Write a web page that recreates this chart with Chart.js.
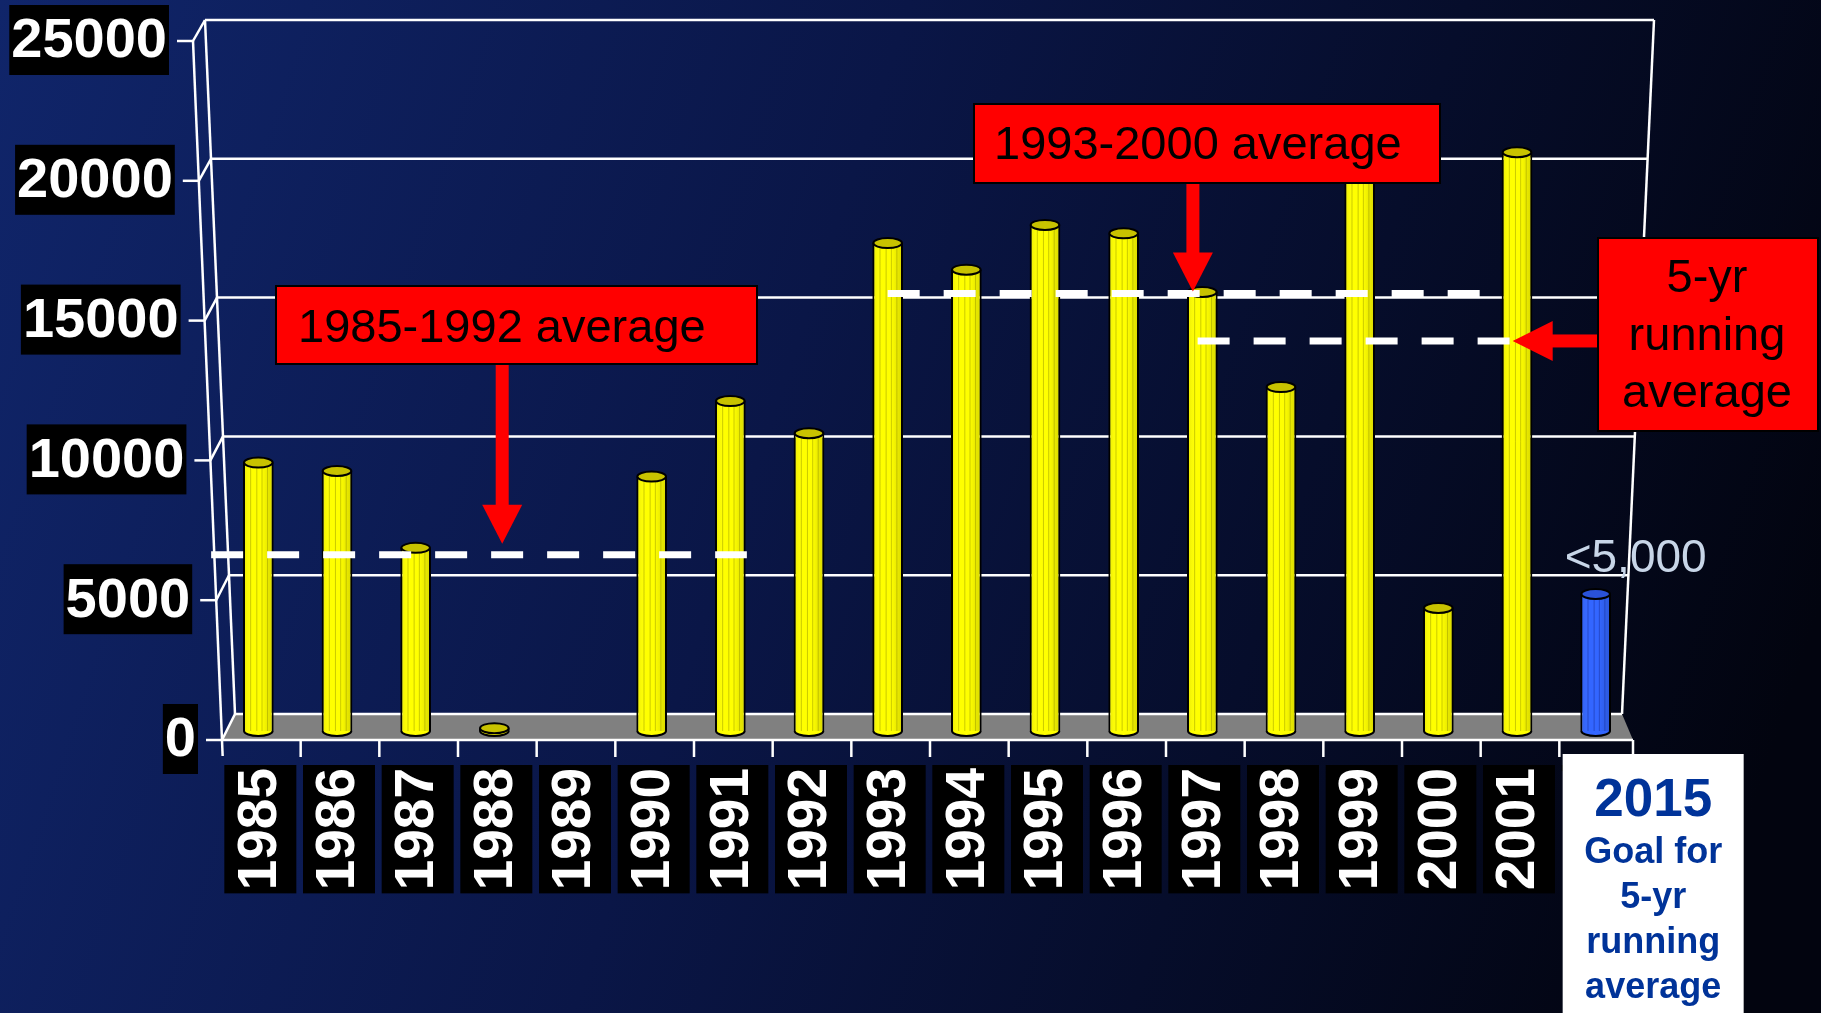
<!DOCTYPE html>
<html><head><meta charset="utf-8">
<script src="https://cdn.jsdelivr.net/npm/chart.js@4.4.1/dist/chart.umd.min.js"></script>
<style>html,body{margin:0;padding:0;background:#060d30;overflow:hidden}canvas{display:block}</style>
</head><body>
<canvas id="c" width="1821" height="1013"></canvas>
<script>
// ---------- data ----------
const years = ['1985','1986','1987','1988','1989','1990','1991','1992','1993','1994','1995','1996','1997','1998','1999','2000','2001'];
const counts = [9600, 9300, 6550, 100, null, 9100, 11800, 10650, 17450, 16500, 18100, 17800, 15700, 12300, 21900, 4400, 20700];
const goalYear = '2015';
const goalValue = 4900;
const goalNote = '<5,000';
const goalBoxLines = ['2015', 'Goal for', '5-yr', 'running', 'average'];
const yTickValues = [0, 5000, 10000, 15000, 20000, 25000];
const avgNames = ['1985-1992 average', '1993-2000 average', '5-yr running average'];
const avgValues = [6300, 15650, 13950];
const avgFrom = [-0.6, 8.0, 11.94];   // in category-index units
const avgTo = [6.21, 15.53, 15.92];

const FONT = '"Liberation Sans", Arial, Helvetica, sans-serif';
const labels = years.concat([goalYear]);
const values = counts.concat([goalValue]);

// shared 3-D frame geometry derived from the chart area and y scale
function geom(chart) {
  const {chartArea: a, scales: {y}} = chart;
  const t = p => (a.bottom - p) / (a.bottom - a.top);
  const fy = p => p + 9;
  const by = p => p - 17 + 5 * t(p);
  const p0 = y.getPixelForValue(0), pT = y.getPixelForValue(25000);
  const F = fy(p0), Bk = by(p0), FT = fy(pT), BT = by(pT);
  const fx = yy => (a.left - 26) + (yy - FT) * 29 / (F - FT);
  const blx = yy => (a.left - 14) + (yy - BT) * 30 / (Bk - BT);
  const brx = yy => (a.right + 19) - (yy - BT) * 32 / (Bk - BT);
  return {a, y, fy, by, F, Bk, FT, BT, fx, blx, brx};
}

// ---------- plugins ----------
const background = {
  id: 'background',
  beforeDraw(chart) {
    const {ctx, width, height} = chart;
    const g = ctx.createLinearGradient(0, 0, width, height * 0.6);
    g.addColorStop(0, '#10256a');
    g.addColorStop(0.45, '#0a1647');
    g.addColorStop(1, '#02040f');
    ctx.save();
    ctx.fillStyle = g;
    ctx.fillRect(0, 0, width, height);
    ctx.restore();
  }
};

const frame = {
  id: 'frame',
  beforeDatasetsDraw(chart) {
    const {ctx} = chart;
    const {a, y, fy, by, F, Bk, FT, BT, fx, blx, brx} = geom(chart);
    ctx.save();
    ctx.fillStyle = '#808080';
    ctx.beginPath();
    ctx.moveTo(fx(F), F); ctx.lineTo(a.right - 2, F); ctx.lineTo(brx(Bk), Bk); ctx.lineTo(blx(Bk), Bk);
    ctx.closePath(); ctx.fill();
    ctx.strokeStyle = '#ffffff';
    ctx.lineWidth = 2.5;
    ctx.lineCap = 'butt';
    const line = (x1, y1, x2, y2) => { ctx.beginPath(); ctx.moveTo(x1, y1); ctx.lineTo(x2, y2); ctx.stroke(); };
    y.ticks.forEach(tk => {
      const p = y.getPixelForValue(tk.value);
      const yb = by(p), yf = fy(p);
      line(blx(yb), yb, brx(yb), yb);
      line(fx(yf), yf, blx(yb), yb);
      line(fx(yf) - 16, yf, fx(yf), yf);
    });
    line(blx(BT), BT, blx(Bk), Bk);
    line(brx(BT), BT, brx(Bk), Bk);
    line(fx(FT), FT, fx(F + 16), F + 16);
    line(fx(F), F, a.right - 2, F);
    const w = (a.right - a.left) / labels.length;
    for (let k = 1; k <= labels.length; k++) {
      const xx = a.left + k * w + (k === labels.length ? -2 : 3);
      line(xx, F, xx, F + 17);
    }
    // y tick labels (black boxes) placed along the slanted front axis
    ctx.font = 'bold 56px ' + FONT;
    ctx.textAlign = 'right';
    ctx.textBaseline = 'middle';
    y.ticks.forEach(tk => {
      const p = y.getPixelForValue(tk.value);
      const yf = fy(p);
      const right = fx(yf) - 24;
      const txt = String(tk.value);
      const tw = ctx.measureText(txt).width;
      ctx.fillStyle = '#000000';
      ctx.fillRect(right - tw - 4, yf - 1 - 35, tw + 4, 70);
      ctx.fillStyle = '#ffffff';
      ctx.fillText(txt, right - 2, yf + 1);
    });
    ctx.restore();
  }
};

const cylinders = {
  id: 'cylinders',
  afterDatasetDraw(chart, args) {
    if (args.index !== 0) return;
    const {ctx} = chart;
    const meta = chart.getDatasetMeta(0);
    ctx.save();
    meta.data.forEach((el, i) => {
      if (values[i] == null) return;
      const {x, y, base, width} = el.getProps(['x', 'y', 'base', 'width'], true);
      const isGoal = labels[i] === goalYear;
      const body = isGoal ? '#3366ff' : '#ffff00';
      const cap = isGoal ? '#2a52d8' : '#c8c200';
      const l = x - width / 2, r = x + width / 2, rx = width / 2, ry = 5;
      if (base - y > 2) {
        const g = ctx.createLinearGradient(l, 0, r, 0);
        g.addColorStop(0, 'rgba(0,0,0,0.10)');
        g.addColorStop(0.3, 'rgba(255,255,255,0.0)');
        g.addColorStop(0.6, 'rgba(0,0,0,0.0)');
        g.addColorStop(1, 'rgba(0,0,0,0.16)');
        ctx.fillStyle = g;
        ctx.fillRect(l + 2, y, width - 4, base - y);
        ctx.strokeStyle = isGoal ? 'rgba(20,40,140,0.45)' : 'rgba(140,140,0,0.45)';
        ctx.lineWidth = 1;
        [0.25, 0.45, 0.62, 0.8].forEach(f => {
          ctx.beginPath(); ctx.moveTo(l + width * f, y); ctx.lineTo(l + width * f, base); ctx.stroke();
        });
      }
      ctx.beginPath();
      ctx.ellipse(x, base, rx - 1, ry, 0, 0, Math.PI);
      ctx.fillStyle = body; ctx.fill();
      ctx.lineWidth = 2; ctx.strokeStyle = '#000'; ctx.stroke();
      ctx.beginPath();
      ctx.ellipse(x, y, rx - 1, ry, 0, 0, Math.PI * 2);
      ctx.fillStyle = cap; ctx.fill();
      ctx.lineWidth = 2; ctx.strokeStyle = '#000'; ctx.stroke();
    });
    ctx.restore();
  }
};

const annotations = {
  id: 'annotations',
  afterDraw(chart) {
    const {ctx, scales: {y, xl, x}} = chart;
    ctx.save();
    const redBox = (bx, byy, bw, bh) => {
      ctx.fillStyle = '#ff0000'; ctx.fillRect(bx, byy, bw, bh);
      ctx.lineWidth = 2; ctx.strokeStyle = '#000'; ctx.strokeRect(bx, byy, bw, bh);
    };
    const vArrow = (ax, y0, tip) => {
      const hl = 39, hw = 20, sw = 13;
      ctx.fillStyle = '#ff0000';
      ctx.fillRect(ax - sw / 2, y0, sw, tip - hl - y0 + 1);
      ctx.beginPath(); ctx.moveTo(ax - hw, tip - hl); ctx.lineTo(ax + hw, tip - hl); ctx.lineTo(ax, tip); ctx.closePath(); ctx.fill();
    };
    const hArrow = (ay, x0, tip) => {
      const hl = 40, hw = 20, sw = 13;
      ctx.fillStyle = '#ff0000';
      ctx.fillRect(tip + hl - 1, ay - sw / 2, x0 - tip - hl + 1, sw);
      ctx.beginPath(); ctx.moveTo(tip + hl, ay - hw); ctx.lineTo(tip + hl, ay + hw); ctx.lineTo(tip, ay); ctx.closePath(); ctx.fill();
    };
    ctx.font = '47px ' + FONT;
    ctx.textBaseline = 'alphabetic';
    redBox(276, 286, 481, 78);
    ctx.fillStyle = '#000'; ctx.textAlign = 'left';
    ctx.fillText(avgNames[0], 298, 342);
    vArrow(xl.getPixelForValue(3.1), 365, y.getPixelForValue(avgValues[0]) - 11);
    redBox(974, 104, 466, 79);
    ctx.fillStyle = '#000';
    ctx.fillText(avgNames[1], 994, 159);
    vArrow(xl.getPixelForValue(11.88), 184, y.getPixelForValue(avgValues[1]) - 2);
    redBox(1598, 238, 220, 193);
    ctx.fillStyle = '#000'; ctx.textAlign = 'center';
    ctx.fillText('5-yr', 1707, 292);
    ctx.fillText('running', 1707, 350);
    ctx.fillText('average', 1707, 407);
    hArrow(y.getPixelForValue(avgValues[2]), 1597, xl.getPixelForValue(avgTo[2]) + 2);
    const gi = labels.indexOf(goalYear);
    const gx = x.getPixelForValue(gi);
    ctx.font = '46px ' + FONT;
    ctx.fillStyle = '#c8d6e8'; ctx.textAlign = 'left';
    ctx.fillText(goalNote, gx - 31, y.getPixelForValue(goalValue) - 22);
    ctx.fillStyle = '#ffffff';
    ctx.fillRect(gx - 33, 754, 181, 270);
    ctx.fillStyle = '#003399'; ctx.textAlign = 'center';
    const cx = gx - 33 + 90.5;
    ctx.font = 'bold 53px ' + FONT;
    ctx.fillText(goalBoxLines[0], cx, 816);
    ctx.font = 'bold 36px ' + FONT;
    [863, 908, 953, 998].forEach((by, k) => ctx.fillText(goalBoxLines[k + 1], cx, by));
    ctx.restore();
  }
};

// ---------- datasets ----------
const lineSets = avgNames.map((n, i) => ({
  type: 'line',
  label: n,
  data: [{x: avgFrom[i], y: avgValues[i]}, {x: avgTo[i], y: avgValues[i]}],
  xAxisID: 'xl', yAxisID: 'y',
  borderColor: '#ffffff', borderWidth: 7, borderDash: [32, 24], borderCapStyle: 'butt',
  pointRadius: 0, fill: false, clip: false, order: 1
}));

new Chart(document.getElementById('c'), {
  type: 'bar',
  data: {
    labels: labels,
    datasets: [{
      type: 'bar',
      label: 'count',
      data: values,
      backgroundColor: labels.map(l => l === goalYear ? '#3366ff' : '#ffff00'),
      borderColor: '#000000',
      borderWidth: 2,
      borderSkipped: 'start',
      grouped: false,
      barPercentage: 0.39,
      categoryPercentage: 1.0,
      xAxisID: 'x', yAxisID: 'y',
      order: 2
    }].concat(lineSets)
  },
  options: {
    responsive: false,
    devicePixelRatio: 1,
    animation: false,
    events: [],
    layout: {padding: {left: 0, top: 32, right: 186, bottom: 82}},
    plugins: {legend: {display: false}, tooltip: {enabled: false}},
    scales: {
      x: {
        type: 'category',
        offset: true,
        grid: {display: false, drawTicks: false},
        border: {display: false},
        ticks: {
          autoSkip: false, minRotation: 90, maxRotation: 90,
          color: '#ffffff',
          font: {family: FONT, size: 55, weight: 'bold'},
          padding: 37,
          labelOffset: -31,
          showLabelBackdrop: true, backdropColor: '#000000',
          backdropPadding: {top: 3, bottom: 3, left: 3, right: 3},
          callback: function (v) { const s = this.getLabelForValue(v); return s === goalYear ? '' : s; }
        },
        afterFit: s => { s.height = 200; s.paddingLeft = 0; s.paddingRight = 0; }
      },
      xl: {type: 'linear', display: false, offset: false, grace: 0, bounds: 'data',
           min: -0.5, max: labels.length - 0.5},
      y: {
        type: 'linear', min: 0, max: 25000,
        afterBuildTicks: s => { s.ticks = yTickValues.map(v => ({value: v})); },
        grid: {display: false, drawTicks: false},
        border: {display: false},
        ticks: {display: false},
        afterFit: s => { s.width = 219; s.paddingTop = 0; s.paddingBottom = 0; }
      }
    }
  },
  plugins: [background, frame, cylinders, annotations]
});
</script>
</body></html>
